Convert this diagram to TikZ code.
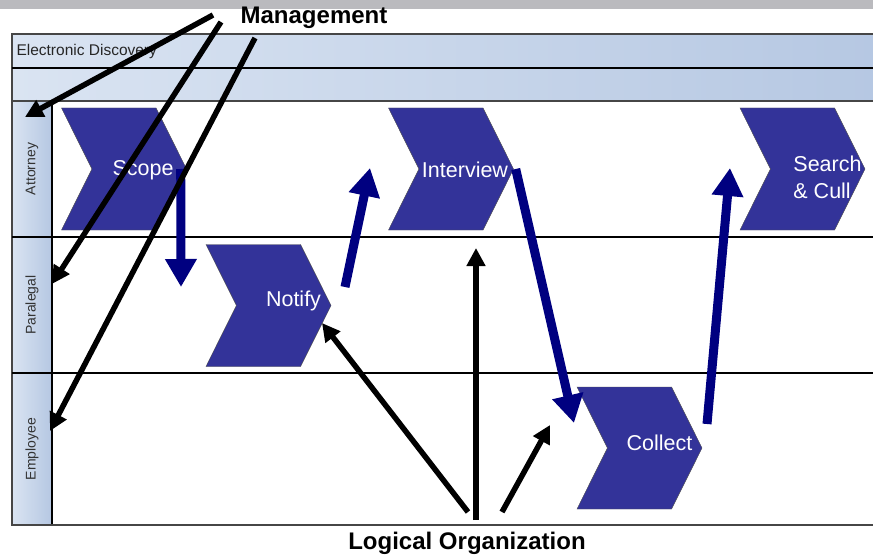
\documentclass[tikz,border=0pt]{standalone}
\usepackage{fontspec}
\setmainfont{Liberation Sans}
\usetikzlibrary{shapes.symbols, arrows.meta, positioning, calc}
\definecolor{stepBlue}{RGB}{51, 51, 153}
\definecolor{flowBlue}{RGB}{0, 0, 128}
\definecolor{laneLight}{RGB}{218, 228, 242}
\definecolor{laneDark}{RGB}{181, 199, 226}
\definecolor{frameGray}{RGB}{70, 70, 70}
\definecolor{barGray}{RGB}{186, 186, 190}

\begin{document}
\begin{tikzpicture}[x=1pt, y=-1pt,
  stepbox/.style={signal, signal from=west, signal to=east, signal pointer angle=127,
                  draw=black!70, fill=stepBlue, minimum width=125pt, minimum height=122pt,
                  inner sep=0pt},
  steptext/.style={text=white, font=\fontsize{21.5}{27}\selectfont, align=left},
  lanehead/.style={draw=black, line width=1.2pt, left color=laneLight, right color=laneDark,
                   minimum width=40pt, inner sep=0pt},
  lanename/.style={rotate=90, font=\fontsize{14}{16}\selectfont, text=black!80},
  flow/.style={-{Triangle[width=30pt, length=28pt]}, line width=9pt, draw=flowBlue},
  pointer/.style={-{Triangle[width=18pt, length=18pt]}, line width=5.5pt, draw=black},
  callout/.style={font=\bfseries\fontsize{24}{28}\selectfont}]

  \clip (0,0) rectangle (873,559);
  \fill[white] (0,0) rectangle (873,559);
  \fill[barGray] (0,0) rectangle (873,9);

  % --- pool header bars ---
  \shade[left color=laneLight, right color=laneDark] (12,34) rectangle (900,68);
  \shade[left color=laneLight, right color=laneDark] (12,68) rectangle (900,101);
  \node[anchor=west, font=\fontsize{15.5}{17}\selectfont, text=black!85] (pool) at (13,51)
       {Electronic Discovery};

  % --- lanes ---
  \node[lanehead, minimum height=136pt, label={[lanename]center:Attorney}]  (atty) at (32,169) {};
  \node[lanehead, minimum height=136pt, label={[lanename]center:Paralegal}] (para) at (32,305) {};
  \node[lanehead, minimum height=152pt, label={[lanename]center:Employee}]  (empl) at (32,449) {};

  \draw[frameGray, line width=1.5pt] (900,34) -| (12,525) -- (900,525);
  \draw[black, line width=1.5pt] (12,68) -- (900,68);
  \draw[frameGray, line width=1.8pt] (12,101) -- (900,101);
  \draw[black, line width=1.3pt] (12,237) -- (900,237);
  \draw[black, line width=1.3pt] (12,373) -- (900,373);

  % --- process steps ---
  \node[stepbox] (scope)     at (124,169)   {};
  \node[stepbox] (notify)    at (268.5,305.5) {};
  \node[stepbox] (interview) at (451,169)   {};
  \node[stepbox] (collect)   at (639.5,448) {};
  \node[stepbox] (search)    at (802.5,169) {};

  \node[steptext] at ([xshift=19pt, yshift=-1pt]scope.center)     {Scope};
  \node[steptext] at ([xshift=25pt, yshift=5pt]notify.center)     {Notify};
  \node[steptext] at ([xshift=14pt, yshift=-1pt]interview.center) {Interview};
  \node[steptext] at ([xshift=20pt, yshift=5pt]collect.center)    {Collect};
  \node[steptext] at ([xshift=25pt, yshift=-8pt]search.center)    {Search\\\& Cull};

  % --- flow between steps ---
  \coordinate (scopeTo)     at (181,287);
  \coordinate (notifyFrom)  at (345,287);
  \coordinate (notifyTo)    at (370,168);
  \coordinate (interviewTo) at (574,423);
  \coordinate (collectFrom) at (707,424);
  \coordinate (collectTo)   at (730,168);

  \draw[flow] ([xshift=-6pt]scope.east) -- (scopeTo);
  \draw[flow] (notifyFrom) -- (notifyTo);
  \draw[flow] ([xshift=2pt]interview.east) -- (interviewTo);
  \draw[flow] (collectFrom) -- (collectTo);

  % --- callouts ---
  \node[callout] (mgmt)  at (314,18)  {Management};
  \node[callout] (logic) at (467,543) {Logical Organization};

  \coordinate (m1) at (213,15);
  \coordinate (m2) at (221,22);
  \coordinate (m3) at (255,38);
  \draw[pointer] (m1) -- (25,117);
  \draw[pointer] (m2) -- (52,284);
  \draw[pointer] (m3) -- (50,431);

  \coordinate (l1) at (468,512);
  \coordinate (l2) at (476,520);
  \coordinate (l3) at (502,512);
  \draw[pointer] (l1) -- (322,323);
  \draw[pointer] (l2) -- (476,248);
  \draw[pointer] (l3) -- (550,425);

\end{tikzpicture}
\end{document}
